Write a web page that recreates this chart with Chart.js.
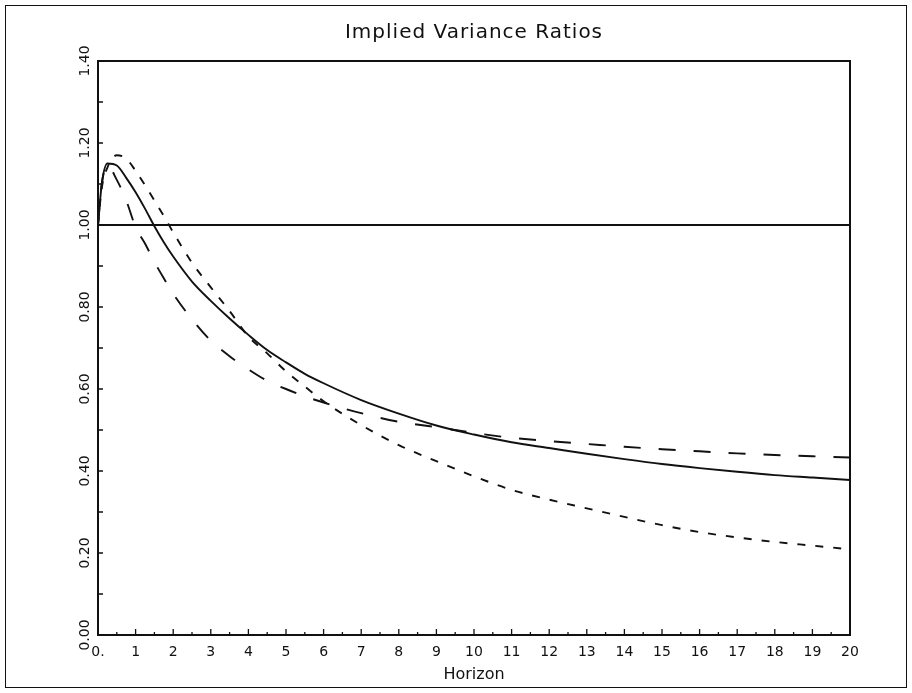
<!DOCTYPE html>
<html>
<head>
<meta charset="utf-8">
<script src="https://cdn.jsdelivr.net/npm/chart.js@4.4.1/dist/chart.umd.min.js"></script>
<style>
  html, body { margin: 0; padding: 0; background: #fff; }
  #wrap { width: 912px; height: 693px; position: relative; }
</style>
</head>
<body>
<div id="wrap"><canvas id="ratioChart"></canvas></div>
<script>
// values
const horizon = [0, 0.1, 0.25, 0.5, 0.75, 1, 1.25, 1.5, 1.75, 2, 2.5, 3, 3.5, 4, 4.5, 5, 5.5, 6, 7, 8, 9, 10, 11, 12, 13, 14, 15, 16, 17, 18, 19, 20];
const solidRatio = [1.00, 1.10, 1.15, 1.145, 1.115, 1.08, 1.04, 0.997, 0.958, 0.923, 0.862, 0.815, 0.772, 0.732, 0.695, 0.665, 0.637, 0.614, 0.573, 0.540, 0.511, 0.489, 0.470, 0.456, 0.442, 0.429, 0.417, 0.407, 0.398, 0.390, 0.384, 0.378];
const longDashRatio = [1.00, 1.10, 1.145, 1.11, 1.06, 0.995, 0.955, 0.91, 0.870, 0.832, 0.770, 0.718, 0.680, 0.648, 0.620, 0.600, 0.582, 0.567, 0.541, 0.520, 0.507, 0.493, 0.481, 0.473, 0.466, 0.459, 0.453, 0.448, 0.443, 0.439, 0.436, 0.433];
const shortDashRatio = [1.00, 1.09, 1.14, 1.17, 1.162, 1.132, 1.097, 1.06, 1.022, 0.982, 0.908, 0.848, 0.790, 0.728, 0.687, 0.643, 0.606, 0.570, 0.512, 0.463, 0.424, 0.387, 0.354, 0.330, 0.309, 0.288, 0.268, 0.251, 0.238, 0.227, 0.218, 0.209];
const refHorizon = [0, 20];
const refLevel = [1.0, 1.0];
const chartTitle = 'Implied Variance Ratios';

const pts = (xs, ys) => xs.map((x, i) => ({ x: x, y: ys[i] }));
const ink = '#111';

// frame, title, inner tick marks, rotated y labels
const plotDecor = {
  id: 'plotDecor',
  afterDraw(chart) {
    const ctx = chart.ctx;
    const a = chart.chartArea;
    const xs = chart.scales.x;
    const ys = chart.scales.y;
    ctx.save();
    ctx.strokeStyle = ink;
    ctx.lineWidth = 1;
    ctx.strokeRect(5.5, 5.5, 901, 682);

    ctx.lineWidth = 2;
    ctx.beginPath();
    ctx.moveTo(a.left, a.top);
    ctx.lineTo(a.right, a.top);
    ctx.lineTo(a.right, a.bottom);
    ctx.stroke();

    ctx.lineWidth = 1.3;
    ctx.beginPath();
    xs.ticks.forEach(t => {
      const px = xs.getPixelForValue(t.value);
      const len = Number.isInteger(t.value) ? 6 : 3;
      ctx.moveTo(px, a.bottom);
      ctx.lineTo(px, a.bottom - len);
    });
    ys.ticks.forEach(t => {
      const py = ys.getPixelForValue(t.value);
      ctx.moveTo(a.left, py);
      ctx.lineTo(a.left + 5, py);
    });
    ctx.stroke();

    ctx.fillStyle = ink;
    ctx.textAlign = 'center';
    ctx.textBaseline = 'middle';
    ctx.font = '20px "DejaVu Sans"';
    ctx.letterSpacing = '1px';
    ctx.fillText(chartTitle, (a.left + a.right) / 2, 33);
    ctx.letterSpacing = '0px';

    ctx.font = '14px "DejaVu Sans"';
    ys.ticks.forEach(t => {
      const v = Math.round(t.value * 10);
      if (v % 2 !== 0) return;
      const py = ys.getPixelForValue(t.value);
      ctx.save();
      ctx.translate(85, py);
      ctx.rotate(-Math.PI / 2);
      ctx.fillText((v / 10).toFixed(2), 0, 0);
      ctx.restore();
    });
    ctx.restore();
  }
};

const ctx = document.getElementById('ratioChart').getContext('2d');
new Chart(ctx, {
  type: 'line',
  data: {
    datasets: [
      { data: pts(refHorizon, refLevel), borderColor: ink, borderWidth: 2 },
      { data: pts(horizon, solidRatio), borderColor: ink, borderWidth: 1.9 },
      { data: pts(horizon, longDashRatio), borderColor: ink, borderWidth: 1.9, borderDash: [17, 18] },
      { data: pts(horizon, shortDashRatio), borderColor: ink, borderWidth: 1.9, borderDash: [8, 10] }
    ]
  },
  options: {
    responsive: true,
    maintainAspectRatio: false,
    animation: false,
    layout: { padding: { left: 0, right: 62, top: 61, bottom: 0 } },
    elements: {
      point: { radius: 0 },
      line: { cubicInterpolationMode: 'monotone', fill: false }
    },
    plugins: {
      legend: { display: false },
      tooltip: { enabled: false },
      title: { display: false }
    },
    scales: {
      x: {
        type: 'linear',
        min: 0,
        max: 20,
        grid: { display: false, drawTicks: false },
        border: { display: true, color: ink, width: 2 },
        afterFit: s => { s.height = 58; },
        ticks: {
          stepSize: 0.5,
          autoSkip: false,
          maxRotation: 0,
          padding: 9,
          color: ink,
          font: { family: 'DejaVu Sans', size: 14 },
          callback: v => Number.isInteger(v) ? (v === 0 ? '0.' : String(v)) : ''
        },
        title: {
          display: true,
          text: 'Horizon',
          color: ink,
          font: { family: 'DejaVu Sans', size: 16 },
          padding: { top: 0, bottom: 9 }
        }
      },
      y: {
        min: 0,
        max: 1.4,
        grid: { display: false, drawTicks: false },
        border: { display: true, color: ink, width: 2 },
        afterFit: s => { s.width = 98; },
        ticks: { stepSize: 0.1, display: false }
      }
    }
  },
  plugins: [plotDecor]
});
</script>
</body>
</html>
